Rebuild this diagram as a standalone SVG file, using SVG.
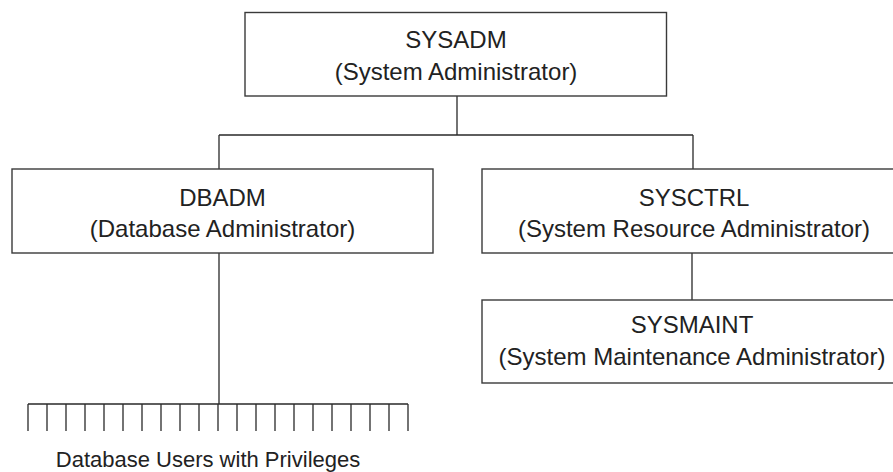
<svg xmlns="http://www.w3.org/2000/svg" width="893" height="472" viewBox="0 0 893 472">
<style>
.box{fill:#fff;stroke:#3a3a3a;stroke-width:1.4}
.t{font-family:"Liberation Sans",Arial,sans-serif;font-size:24px;fill:#222;text-anchor:middle}
.lbl{font-family:"Liberation Sans",Arial,sans-serif;font-size:22px;fill:#222;text-anchor:middle}
.c{fill:none;stroke:#2a2a2a;stroke-width:1.3}
</style>
<rect width="893" height="472" fill="#fff"/>
<g id="connectors">
<path class="c" d="M457,96 V135 M219,135 H693 M219,135 V169 M693,135 V169 M692,253 V300 M219,253 V404"/>
<path class="c" d="M28,404 H408 M28,404 V431 M47,404 V431 M66,404 V431 M85,404 V431 M104,404 V431 M123,404 V431 M142,404 V431 M161,404 V431 M180,404 V431 M199,404 V431 M218,404 V431 M237,404 V431 M256,404 V431 M275,404 V431 M294,404 V431 M313,404 V431 M332,404 V431 M351,404 V431 M370,404 V431 M389,404 V431 M408,404 V431"/>
</g>
<g id="sysadm">
<rect class="box" x="245" y="12.5" width="421.5" height="83.5"/>
<text class="t" x="456" y="48">SYSADM</text>
<text class="t" x="456" y="80">(System Administrator)</text>
</g>
<g id="dbadm">
<rect class="box" x="12" y="169" width="421" height="84"/>
<text class="t" x="222.5" y="206">DBADM</text>
<text class="t" x="222.5" y="237">(Database Administrator)</text>
</g>
<g id="sysctrl">
<rect class="box" x="482" y="169" width="424" height="84"/>
<text class="t" x="694" y="206">SYSCTRL</text>
<text class="t" x="694" y="237">(System Resource Administrator)</text>
</g>
<g id="sysmaint">
<rect class="box" x="482" y="300" width="424" height="83"/>
<text class="t" x="692" y="333">SYSMAINT</text>
<text class="t" x="692" y="365">(System Maintenance Administrator)</text>
</g>
<g id="users">
<text class="lbl" x="208" y="467">Database Users with Privileges</text>
</g>
</svg>
